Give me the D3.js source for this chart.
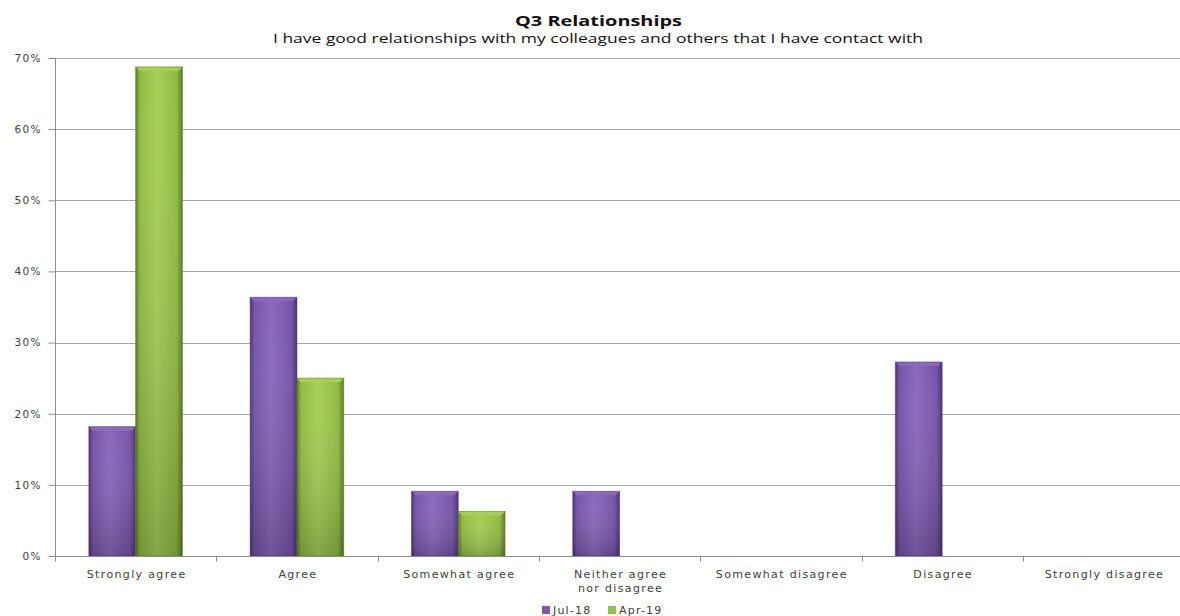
<!DOCTYPE html>
<html>
<head>
<meta charset="utf-8">
<script src="https://cdn.jsdelivr.net/npm/d3@7/dist/d3.min.js"></script>
<style>
  html, body { margin: 0; padding: 0; background: #fff; }
  svg { display: block; }
</style>
</head>
<body>
<svg id="chart" width="1180" height="616"></svg>
<script>
// Survey responses, share of respondents per answer
const categories = ["Strongly agree", "Agree", "Somewhat agree", "Neither agree\nnor disagree", "Somewhat disagree", "Disagree", "Strongly disagree"];
const seriesNames = ["Jul-18", "Apr-19"];
const jul18 = [0.1818, 0.3636, 0.0909, 0.0909, 0, 0.2727, 0];
const apr19 = [0.6875, 0.25, 0.0625, 0, 0, 0, 0];
const yTicks = [0, 0.1, 0.2, 0.3, 0.4, 0.5, 0.6, 0.7];

const titleText = "Q3 Relationships";
const subtitleText = "I have good relationships with my colleagues and others that I have contact with";

const svg = d3.select("#chart");
const x0Left = 55, x0Right = 55 + 7 * 161.3;
const gridRight = 1180;
const yTop = 58, yBottom = 556;

const axisFont = "'DejaVu Sans', Verdana, sans-serif";
const titleFont = "'Open Sans', 'Noto Sans', sans-serif";

const x0 = d3.scaleBand().domain(d3.range(categories.length)).range([x0Left, x0Right]).paddingInner(0).paddingOuter(0);
const x1 = d3.scaleBand().domain(seriesNames).range([x0.bandwidth() * 0.21, x0.bandwidth() * 0.79]).padding(0);
const y = d3.scaleLinear().domain([0, 0.7]).range([yBottom, yTop]);

// gradients for the bevelled bars
const defs = svg.append("defs");
const colors = {
  "Jul-18": { dark: "#4b3274", mid: "#7653a8", light: "#8b69bd", legend: "#7d5ab0" },
  "Apr-19": { dark: "#5b7b22", mid: "#8fbb42", light: "#a6d056", legend: "#94c247" }
};
Object.entries(colors).forEach(([name, c], i) => {
  const g = defs.append("linearGradient").attr("id", "h" + i).attr("x1", 0).attr("x2", 1).attr("y1", 0).attr("y2", 0);
  g.append("stop").attr("offset", "0%").attr("stop-color", c.dark);
  g.append("stop").attr("offset", "9%").attr("stop-color", c.mid);
  g.append("stop").attr("offset", "45%").attr("stop-color", c.light);
  g.append("stop").attr("offset", "88%").attr("stop-color", c.mid);
  g.append("stop").attr("offset", "100%").attr("stop-color", c.dark);
  const v = defs.append("linearGradient").attr("id", "v" + i).attr("x1", 0).attr("x2", 0).attr("y1", 0).attr("y2", 1);
  v.append("stop").attr("offset", "0%").attr("stop-color", "#fff").attr("stop-opacity", 0.0);
  v.append("stop").attr("offset", "100%").attr("stop-color", "#000").attr("stop-opacity", 0.2);
});

// gridlines
svg.append("g")
  .selectAll("line")
  .data(yTicks.slice(1))
  .join("line")
  .attr("x1", x0Left).attr("x2", gridRight)
  .attr("y1", d => Math.round(y(d)) + 0.5).attr("y2", d => Math.round(y(d)) + 0.5)
  .attr("stroke", "#a6a6a6").attr("stroke-width", 1);

// y axis
const yAxis = d3.axisLeft(y).tickValues(yTicks).tickFormat(d3.format(".0%")).tickSize(7).tickPadding(6.5);
const yg = svg.append("g").attr("transform", `translate(${x0Left + 0.5},0)`).call(yAxis);
yg.select(".domain").attr("stroke", "#8c8c8c").attr("d", `M0,${yTop}V${yBottom}`);
yg.selectAll(".tick line").attr("stroke", "#8c8c8c");
yg.selectAll(".tick text").attr("fill", "#404040")
  .style("font-family", axisFont).style("font-size", "10.5px").style("letter-spacing", "1.4px");

// bars
const groups = svg.append("g").selectAll("g")
  .data(categories.map((c, i) => ({ i, vals: [jul18[i], apr19[i]] })))
  .join("g")
  .attr("transform", d => `translate(${x0(d.i)},0)`);

seriesNames.forEach((s, si) => {
  const bars = groups.filter(d => d.vals[si] > 0);
  bars.append("rect")
    .attr("x", x1(s)).attr("width", x1.bandwidth())
    .attr("y", d => y(d.vals[si])).attr("height", d => y(0) - y(d.vals[si]))
    .attr("fill", `url(#h${si})`);
  bars.append("rect")
    .attr("x", x1(s)).attr("width", x1.bandwidth())
    .attr("y", d => y(d.vals[si])).attr("height", d => y(0) - y(d.vals[si]))
    .attr("fill", `url(#v${si})`)
    .attr("stroke", colors[s].dark).attr("stroke-opacity", 0.55).attr("stroke-width", 1);
  // bevel highlight along the top edge
  bars.append("path")
    .attr("d", d => {
      const x = x1(s), w = x1.bandwidth(), t = y(d.vals[si]);
      return `M${x + 0.5},${t + 0.5}H${x + w - 0.5}L${x + w - 4},${t + 4}H${x + 4}Z`;
    })
    .attr("fill", colors[s].light).attr("opacity", 0.95);
});

// x axis
const xg = svg.append("g").attr("transform", `translate(0,${yBottom + 0.5})`);
xg.append("line").attr("x1", x0Left).attr("x2", gridRight).attr("stroke", "#8c8c8c");
xg.selectAll(".xt").data(d3.range(categories.length)).join("line")
  .attr("x1", i => Math.round(x0(i)) + 0.5)
  .attr("x2", i => Math.round(x0(i)) + 0.5)
  .attr("y1", 0).attr("y2", 5).attr("stroke", "#8c8c8c");

const xl = xg.selectAll(".xl").data(categories).join("text")
  .attr("text-anchor", "middle")
  .attr("x", (d, i) => x0(i) + x0.bandwidth() / 2 + 1)
  .attr("y", 21)
  .attr("fill", "#404040")
  .style("font-family", axisFont).style("font-size", "11px").style("letter-spacing", "1.35px");
xl.each(function (d) {
  const t = d3.select(this);
  d.split("\n").forEach((line, k) => {
    t.append("tspan").attr("x", t.attr("x")).attr("dy", k === 0 ? 0 : 14).text(line);
  });
});

// titles
svg.append("text").attr("x", 598.5).attr("y", 26).attr("text-anchor", "middle")
  .attr("textLength", 167).attr("lengthAdjust", "spacingAndGlyphs")
  .style("font-family", titleFont).style("font-size", "15px").style("font-weight", "bold").attr("fill", "#111")
  .text(titleText);
svg.append("text").attr("x", 598).attr("y", 43).attr("text-anchor", "middle")
  .attr("textLength", 650).attr("lengthAdjust", "spacingAndGlyphs")
  .style("font-family", titleFont).style("font-size", "13px").attr("fill", "#111")
  .text(subtitleText);

// legend
const legend = svg.append("g").attr("transform", "translate(542,614)");
const lg = legend.selectAll("g").data(seriesNames).join("g")
  .attr("transform", (d, i) => `translate(${i * 66},0)`);
lg.append("rect").attr("x", 0).attr("y", -8).attr("width", 8).attr("height", 8)
  .attr("fill", d => colors[d].legend);
lg.append("text").attr("x", 11).attr("y", 0).attr("fill", "#404040")
  .style("font-family", axisFont).style("font-size", "11px").style("letter-spacing", "1.2px")
  .text(d => d);
</script>
</body>
</html>
